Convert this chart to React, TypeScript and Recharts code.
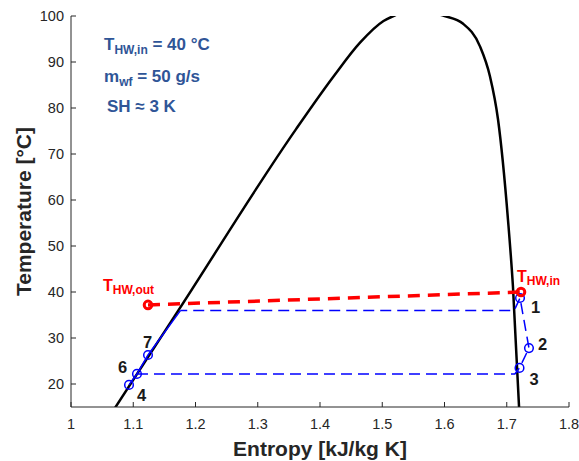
import React from 'react';
import { ComposedChart, Line, Scatter, XAxis, YAxis, Customized } from 'recharts';

const xTicks = [1, 1.1, 1.2, 1.3, 1.4, 1.5, 1.6, 1.7, 1.8];
const yTicks = [20, 30, 40, 50, 60, 70, 80, 90, 100];

// saturation dome (liquid + vapour branch)
const domeEntropy = [1.062, 1.173, 1.361, 1.422, 1.465, 1.502, 1.518, 1.545, 1.575, 1.6, 1.63, 1.657, 1.673, 1.686, 1.702, 1.71, 1.7205];
const domeTemp = [13, 36.1, 75.3, 86.9, 94.3, 98.9, 100, 101.2, 100.8, 100, 98.3, 93.4, 86.9, 77.5, 55.7, 41.1, 13];

// cycle: solid part along saturated liquid line
const cycleSolidEntropy = [1.0932, 1.106, 1.1237, 1.176];
const cycleSolidTemp = [19.8, 22.2, 26.3, 36.0];

// cycle: dashed part
const cycleDashedEntropy = [1.106, 1.713, 1.7205, 1.7357, 1.7213, 1.712, 1.176];
const cycleDashedTemp = [22.2, 22.2, 23.5, 27.8, 38.7, 36.0, 36.0];

// hot water line
const hwEntropy = [1.1237, 1.7229];
const hwTemp = [37.2, 40.0];
const hwLabels = ['HW,out', 'HW,in'];

// numbered state points
const stateLabels = ['1', '2', '3', '4', '6', '7'];
const stateEntropy = [1.7213, 1.7357, 1.7205, 1.0932, 1.106, 1.1237];
const stateTemp = [38.7, 27.8, 23.5, 19.8, 22.2, 26.3];

const zip = (s: number[], t: number[]) => s.map((v, i) => ({ s: v, t: t[i] }));
const domeData = zip(domeEntropy, domeTemp);
const solidData = zip(cycleSolidEntropy, cycleSolidTemp);
const dashedData = zip(cycleDashedEntropy, cycleDashedTemp);
const hwData = hwEntropy.map((v, i) => ({ s: v, t: hwTemp[i], label: hwLabels[i] }));
const stateData = stateEntropy.map((v, i) => ({ s: v, t: stateTemp[i], label: stateLabels[i] }));

const FONT = '"Liberation Sans", Arial, Helvetica, sans-serif';
const AXIS = '#262626';
const BLUE = '#0000ff';
const RED = '#ff0000';
const NOTE = '#2F5597';

const LABEL_OFFSET: Record<string, [number, number]> = {
  '1': [11, 15],
  '2': [9, 2],
  '3': [10, 17],
  '4': [8, 16],
  '6': [-19, -1],
  '7': [-5, -7],
};
const HW_OFFSET: Record<string, [number, number]> = {
  'HW,out': [-45, -14],
  'HW,in': [-4, -10],
};

const BottomTick = (p: any) => (
  <g>
    <line x1={p.x} x2={p.x} y1={p.y} y2={p.y - 5} stroke={AXIS} strokeWidth={1} />
    <text x={p.x} y={p.y + 22} textAnchor="middle" fontSize={14.5} fill={AXIS} fontFamily={FONT}>
      {String(p.payload.value)}
    </text>
  </g>
);
const LeftTick = (p: any) => (
  <g>
    <line x1={p.x} x2={p.x + 5} y1={p.y} y2={p.y} stroke={AXIS} strokeWidth={1} />
    <text x={p.x - 7} y={p.y} dy="0.36em" textAnchor="end" fontSize={14.5} fill={AXIS} fontFamily={FONT}>
      {String(p.payload.value)}
    </text>
  </g>
);
const TopTick = (p: any) => (
  <line x1={p.x} x2={p.x} y1={p.y} y2={p.y + 5} stroke={AXIS} strokeWidth={1} />
);
const RightTick = (p: any) => (
  <line x1={p.x} x2={p.x - 5} y1={p.y} y2={p.y} stroke={AXIS} strokeWidth={1} />
);

const StateMarker = (props: any) => {
  const { cx, cy, payload } = props;
  const [dx, dy] = LABEL_OFFSET[payload.label] || [8, 8];
  return (
    <g>
      <circle cx={cx} cy={cy} r={4.3} fill="none" stroke={BLUE} strokeWidth={1.5} />
      <text x={cx + dx} y={cy + dy} fontSize={16.5} fontWeight="bold" fill="#1a1a1a" fontFamily={FONT}>
        {payload.label}
      </text>
    </g>
  );
};

const HwMarker = (props: any) => {
  const { cx, cy, payload } = props;
  const [dx, dy] = HW_OFFSET[payload.label] || [0, -10];
  return (
    <g>
      <circle cx={cx} cy={cy} r={3.8} fill="none" stroke={RED} strokeWidth={3} />
      <text x={cx + dx} y={cy + dy} fill={RED} fontWeight="bold" fontFamily={FONT} fontSize={16}>
        T
        <tspan fontSize={12} dy={3}>{payload.label}</tspan>
      </text>
    </g>
  );
};

const Notes = () => (
  <g fontFamily={FONT} fontWeight="bold" fill={NOTE}>
    <text x={104} y={50} fontSize={17}>
      T<tspan fontSize={12} dy={4}>HW,in</tspan>
      <tspan dy={-4}> = 40 °C</tspan>
    </text>
    <text x={104} y={82} fontSize={17}>
      m<tspan fontSize={12} dy={4}>wf</tspan>
      <tspan dy={-4}> = 50 g/s</tspan>
    </text>
    <text x={107} y={112} fontSize={17}>
      SH ≈ 3 K
    </text>
  </g>
);

export default function App() {
  return (
    <div style={{ position: 'absolute', left: 0, top: 0, background: '#fff' }}>
      <ComposedChart width={579} height={461} margin={{ top: 16, right: 10, bottom: 0, left: 0 }}>
        <XAxis
          dataKey="s"
          type="number"
          domain={[1, 1.8]}
          ticks={xTicks}
          allowDataOverflow
          height={54}
          tickSize={0}
          tickMargin={0}
          tickLine={false}
          tick={BottomTick}
          axisLine={{ stroke: AXIS, strokeWidth: 1 }}
          label={{
            value: 'Entropy [kJ/kg K]',
            position: 'insideBottom',
            offset: 5,
            style: { fontSize: 21, fontWeight: 'bold', fill: AXIS, fontFamily: FONT },
          }}
        />
        <XAxis
          xAxisId="top"
          dataKey="s"
          type="number"
          orientation="top"
          domain={[1, 1.8]}
          ticks={xTicks}
          allowDataOverflow
          height={0}
          tickSize={0}
          tickMargin={0}
          tickLine={false}
          tick={TopTick}
          axisLine={{ stroke: AXIS, strokeWidth: 1 }}
        />
        <YAxis
          dataKey="t"
          type="number"
          domain={[15, 100]}
          ticks={yTicks}
          allowDataOverflow
          width={71}
          tickSize={0}
          tickMargin={0}
          tickLine={false}
          tick={LeftTick}
          axisLine={{ stroke: AXIS, strokeWidth: 1 }}
          label={{
            value: 'Temperature [°C]',
            angle: -90,
            position: 'insideLeft',
            offset: 24,
            style: { fontSize: 21, fontWeight: 'bold', fill: AXIS, fontFamily: FONT, textAnchor: 'middle' },
          }}
        />
        <YAxis
          yAxisId="right"
          dataKey="t"
          type="number"
          orientation="right"
          domain={[15, 100]}
          ticks={yTicks}
          allowDataOverflow
          width={0}
          tickSize={0}
          tickMargin={0}
          tickLine={false}
          tick={RightTick}
          axisLine={{ stroke: AXIS, strokeWidth: 1 }}
        />
        <Line
          data={domeData}
          dataKey="t"
          type="monotone"
          stroke="#000"
          strokeWidth={2.5}
          dot={false}
          activeDot={false}
          isAnimationActive={false}
        />
        <Line
          data={solidData}
          dataKey="t"
          type="linear"
          stroke={BLUE}
          strokeWidth={1.5}
          dot={false}
          activeDot={false}
          isAnimationActive={false}
        />
        <Line
          data={dashedData}
          dataKey="t"
          type="linear"
          stroke={BLUE}
          strokeWidth={1.5}
          strokeDasharray="11 6"
          dot={false}
          activeDot={false}
          isAnimationActive={false}
        />
        <Line
          data={hwData}
          dataKey="t"
          type="linear"
          stroke={RED}
          strokeWidth={3.5}
          strokeDasharray="12 8"
          dot={false}
          activeDot={false}
          isAnimationActive={false}
        />
        <Scatter data={stateData} dataKey="t" shape={StateMarker} isAnimationActive={false} />
        <Scatter data={hwData} dataKey="t" shape={HwMarker} isAnimationActive={false} />
        <Customized component={Notes} />
      </ComposedChart>
    </div>
  );
}
